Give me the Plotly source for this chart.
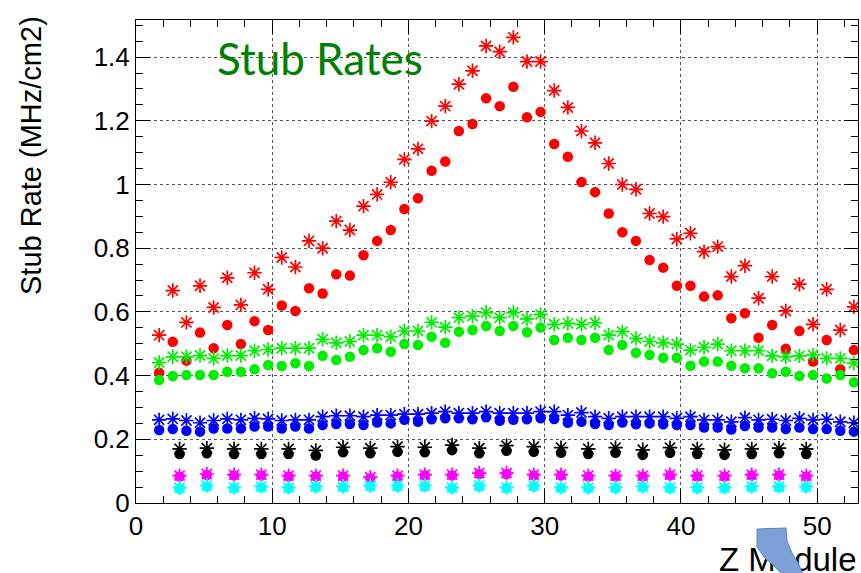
import plotly.graph_objects as go

# x positions of module points
x_full = [1.7, 2.7, 3.7, 4.7, 5.7, 6.7, 7.7, 8.7, 9.7, 10.7, 11.7, 12.7, 13.7,
          14.7, 15.7, 16.7, 17.7, 18.7, 19.7, 20.7, 21.7, 22.7, 23.7, 24.7, 25.7,
          26.7, 27.7, 28.7, 29.7, 30.7, 31.7, 32.7, 33.7, 34.7, 35.7, 36.7, 37.7,
          38.7, 39.7, 40.7, 41.7, 42.7, 43.7, 44.7, 45.7, 46.7, 47.7, 48.7, 49.7,
          50.7, 51.7, 52.7]
x_half = [3.2, 5.2, 7.2, 9.2, 11.2, 13.2, 15.2, 17.2, 19.2, 21.2, 23.2, 25.2,
          27.2, 29.2, 31.2, 33.2, 35.2, 37.2, 39.2, 41.2, 43.2, 45.2, 47.2, 49.2]

red_star = [0.527, 0.667, 0.567, 0.682, 0.614, 0.707, 0.622, 0.723, 0.671, 0.771,
            0.741, 0.823, 0.800, 0.885, 0.857, 0.932, 0.969, 1.007, 1.079, 1.112,
            1.199, 1.246, 1.315, 1.357, 1.435, 1.417, 1.462, 1.386, 1.386, 1.295,
            1.242, 1.168, 1.131, 1.066, 1.000, 0.985, 0.909, 0.899, 0.829, 0.847,
            0.789, 0.805, 0.711, 0.745, 0.643, 0.711, 0.603, 0.687, 0.561, 0.671,
            0.543, 0.616]
red_dot = [0.409, 0.506, 0.447, 0.535, 0.486, 0.559, 0.499, 0.571, 0.543, 0.620,
           0.603, 0.674, 0.658, 0.718, 0.714, 0.778, 0.823, 0.857, 0.923, 0.957,
           1.043, 1.072, 1.168, 1.190, 1.271, 1.246, 1.307, 1.211, 1.228, 1.127,
           1.087, 1.008, 0.976, 0.909, 0.850, 0.823, 0.763, 0.739, 0.682, 0.682,
           0.648, 0.652, 0.580, 0.596, 0.519, 0.559, 0.484, 0.540, 0.444, 0.512,
           0.420, 0.480]
green_star = [0.441, 0.459, 0.459, 0.463, 0.454, 0.463, 0.463, 0.478, 0.482, 0.486,
              0.486, 0.486, 0.514, 0.503, 0.507, 0.527, 0.527, 0.522, 0.540, 0.540,
              0.567, 0.552, 0.582, 0.587, 0.598, 0.582, 0.598, 0.578, 0.592, 0.561,
              0.564, 0.561, 0.566, 0.527, 0.538, 0.517, 0.507, 0.503, 0.499, 0.480,
              0.489, 0.499, 0.478, 0.478, 0.478, 0.462, 0.459, 0.462, 0.465, 0.454,
              0.454, 0.439]
green_dot = [0.386, 0.399, 0.402, 0.402, 0.402, 0.412, 0.412, 0.420, 0.433, 0.430,
             0.439, 0.430, 0.462, 0.449, 0.459, 0.480, 0.486, 0.475, 0.499, 0.496,
             0.522, 0.503, 0.538, 0.543, 0.556, 0.540, 0.556, 0.536, 0.551, 0.512,
             0.519, 0.512, 0.519, 0.480, 0.496, 0.472, 0.465, 0.456, 0.456, 0.431,
             0.444, 0.444, 0.431, 0.423, 0.423, 0.407, 0.412, 0.399, 0.402, 0.391,
             0.402, 0.379]
blue_star = [0.261, 0.264, 0.259, 0.252, 0.259, 0.264, 0.261, 0.266, 0.264, 0.259,
             0.261, 0.261, 0.271, 0.274, 0.274, 0.271, 0.276, 0.276, 0.279, 0.279,
             0.282, 0.287, 0.282, 0.282, 0.287, 0.282, 0.282, 0.282, 0.287, 0.287,
             0.276, 0.284, 0.271, 0.266, 0.271, 0.271, 0.271, 0.271, 0.266, 0.271,
             0.261, 0.261, 0.255, 0.268, 0.261, 0.263, 0.259, 0.266, 0.261, 0.263,
             0.255, 0.252]
blue_dot = [0.229, 0.232, 0.227, 0.224, 0.234, 0.234, 0.234, 0.240, 0.240, 0.234,
            0.240, 0.234, 0.245, 0.248, 0.248, 0.245, 0.253, 0.250, 0.261, 0.255,
            0.263, 0.266, 0.266, 0.263, 0.269, 0.258, 0.261, 0.263, 0.266, 0.264,
            0.252, 0.255, 0.248, 0.245, 0.253, 0.247, 0.250, 0.247, 0.245, 0.245,
            0.237, 0.237, 0.231, 0.242, 0.237, 0.237, 0.232, 0.237, 0.232, 0.232,
            0.227, 0.224]
black_star = [0.170, 0.172, 0.170, 0.170, 0.170, 0.165, 0.175, 0.172, 0.177, 0.175,
              0.182, 0.172, 0.180, 0.177, 0.174, 0.170, 0.174, 0.167, 0.174, 0.170,
              0.167, 0.170, 0.172, 0.170]
black_dot = [0.154, 0.156, 0.154, 0.154, 0.154, 0.149, 0.159, 0.156, 0.161, 0.159,
             0.166, 0.156, 0.164, 0.161, 0.158, 0.154, 0.158, 0.151, 0.158, 0.154,
             0.151, 0.154, 0.156, 0.154]
magenta_star = [0.086, 0.091, 0.089, 0.089, 0.086, 0.086, 0.086, 0.081, 0.086, 0.089,
                0.089, 0.094, 0.094, 0.089, 0.089, 0.086, 0.086, 0.086, 0.089, 0.086,
                0.086, 0.089, 0.089, 0.086]
magenta_dot = [0.083, 0.088, 0.086, 0.086, 0.083, 0.083, 0.083, 0.078, 0.083, 0.086,
               0.086, 0.091, 0.091, 0.086, 0.086, 0.083, 0.083, 0.083, 0.086, 0.083,
               0.083, 0.086, 0.086, 0.083]
cyan_star = [0.048, 0.055, 0.049, 0.052, 0.049, 0.052, 0.052, 0.055, 0.055, 0.055,
             0.049, 0.055, 0.049, 0.055, 0.049, 0.049, 0.049, 0.052, 0.049, 0.049,
             0.049, 0.052, 0.052, 0.052]
cyan_dot = [0.045, 0.052, 0.046, 0.049, 0.046, 0.049, 0.049, 0.052, 0.052, 0.052,
            0.046, 0.052, 0.046, 0.052, 0.046, 0.046, 0.046, 0.049, 0.046, 0.046,
            0.046, 0.049, 0.049, 0.049]

series = [
    (x_full, red_dot, "#ff0000", "dot"),
    (x_full, red_star, "#ff0000", "star"),
    (x_full, green_dot, "#00ee00", "dot"),
    (x_full, green_star, "#00ee00", "star"),
    (x_full, blue_dot, "#0000ff", "dot"),
    (x_full, blue_star, "#0000ff", "star"),
    (x_half, black_dot, "#000000", "dot"),
    (x_half, black_star, "#000000", "star"),
    (x_half, magenta_dot, "#ff00ff", "dot"),
    (x_half, magenta_star, "#ff00ff", "star"),
    (x_half, cyan_dot, "#00ffff", "dot"),
    (x_half, cyan_star, "#00ffff", "star"),
]

fig = go.Figure()
for xs, ys, col, kind in series:
    if kind == "dot":
        marker = dict(symbol="circle", size=10.5, color=col, line=dict(width=0))
    else:
        marker = dict(symbol="asterisk-open", size=12, color=col,
                      line=dict(width=1.7, color=col))
    fig.add_trace(go.Scatter(x=xs, y=ys, mode="markers", marker=marker,
                             showlegend=False, hoverinfo="x+y"))

W, H = 861, 573
L, R, T, B = 136, 3, 20, 70
pw, ph = W - L - R, H - T - B


def px(xp):
    return (xp - L) / pw


def py(yp):
    return (H - B - yp) / ph


axis_common = dict(
    showline=True, linecolor="black", linewidth=1, mirror="ticks",
    ticks="inside", ticklen=14, tickcolor="black", tickwidth=1,
    showgrid=True, gridcolor="#555555", griddash="dot", gridwidth=1,
    zeroline=False, automargin=False,
    tickfont=dict(family="Liberation Sans, Arial", size=26, color="black"),
)

fig.update_xaxes(range=[0, 53.0], dtick=10, tick0=0,
                 minor=dict(dtick=2, ticklen=7, ticks="inside", tickcolor="black",
                            showgrid=False),
                 **axis_common)
fig.update_yaxes(range=[0, 1.5165], dtick=0.2, tick0=0,
                 minor=dict(dtick=0.05, ticklen=7, ticks="inside", tickcolor="black",
                            showgrid=False),
                 **axis_common)

# decorative curved arrow (pixel coordinates converted to paper)
arrow_pts = [(757, 529), (786, 528), (787, 541), (792, 553), (798, 563), (803, 574),
             (782, 574), (773, 565), (764, 557), (757, 547)]
path = "M " + " L ".join(f"{px(a):.4f},{py(b):.4f}" for a, b in arrow_pts) + " Z"

fig.update_layout(
    width=W, height=H,
    margin=dict(l=L, r=R, t=T, b=B, autoexpand=False),
    paper_bgcolor="white", plot_bgcolor="white",
    annotations=[
        dict(text="Stub Rates", xref="paper", yref="paper",
             x=px(320), y=py(58), xanchor="center", yanchor="middle",
             showarrow=False,
             font=dict(family="Lato", size=44, color="#008000")),
        dict(text="Stub Rate (MHz/cm2)", xref="paper", yref="paper",
             x=px(31), y=py(156), xanchor="center", yanchor="middle",
             textangle=-90, showarrow=False,
             font=dict(family="Liberation Sans, Arial", size=29, color="black")),
        dict(text="Z Module", xref="paper", yref="paper",
             x=px(859), y=py(559), xanchor="right", yanchor="middle",
             showarrow=False,
             font=dict(family="Liberation Sans, Arial", size=33, color="black")),
    ],
    shapes=[dict(type="path", xref="paper", yref="paper", path=path,
                 fillcolor="rgba(125,160,215,1)",
                 line=dict(color="#5a87c3", width=1), layer="above")],
)

post = """
document.body.style.margin='0';
document.body.style.overflow='hidden';
try {
  var gd = document.querySelector('.plotly-graph-div');
  var svgs = gd.querySelectorAll('svg.main-svg');
  var top = svgs[svgs.length - 1];
  var sl = gd.querySelector('.layer-above .shapelayer');
  if (top && sl) { top.appendChild(sl); }
} catch (e) {}
"""

fig.write_html("out.html", config={"displayModeBar": False}, post_script=post)
